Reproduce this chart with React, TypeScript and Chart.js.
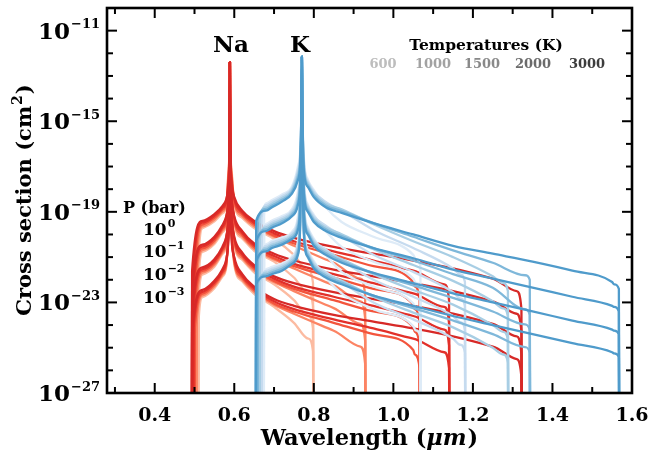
import { useEffect, useRef } from "react";
import { Chart, registerables } from "chart.js";

Chart.register(...registerables);

// ---------------- data ----------------
const TEMPS = ["600", "1000", "1500", "2000", "3000"];
const PRESSURE_EXP = ["0", "\u22121", "\u22122", "\u22123"];

// wavelength grids (micron)
const NA_GRID = [0.52, 0.55, 0.57, 0.58, 0.585, 0.5885, 0.589, 0.5895, 0.593, 0.6, 0.62, 0.65, 0.7, 0.75, 0.85, 0.95, 1.05, 1.15, 1.25];
const K_GRID = [0.68, 0.695, 0.72, 0.745, 0.76, 0.766, 0.769, 0.77, 0.771, 0.775, 0.785, 0.8, 0.83, 0.87, 0.95, 1.05, 1.15, 1.25, 1.35, 1.45, 1.55];

// cut-off wavelengths per temperature (600,1000,1500,2000,3000 K)
const NA_LEFT_CUT = [0.51, 0.505, 0.501, 0.497, 0.494];
const NA_RIGHT_CUT = [0.798, 0.929, 1.066, 1.14, 1.322];
const K_LEFT_CUT = [0.675, 0.669, 0.664, 0.659, 0.655];
const K_RIGHT_CUT = [1.068, 1.18, 1.288, 1.343, 1.567];

// log10 cross sections: [at left cut, grid values..., just before right cut, at right cut]
// rows: P = 1, 0.1, 0.01, 0.001 bar
const NA_600 = [
  [-21.2, -19.72, -19.42, -19.07, -18.77, -17.3, -15.3, -12.4, -15.3, -17.1, -18.67, -19.27, -19.72, -20.2, -20.9, -21.6, -22.15],
  [-22.1, -20.77, -20.42, -19.92, -19.52, -18.0, -15.7, -12.4, -15.7, -17.8, -19.52, -20.17, -20.72, -21.2, -21.9, -22.6, -23.15],
  [-23.0, -21.77, -21.42, -20.87, -20.42, -18.8, -16.1, -12.4, -16.1, -18.6, -20.42, -21.12, -21.67, -22.2, -22.9, -23.6, -24.15],
  [-23.9, -22.77, -22.37, -21.87, -21.42, -19.7, -16.5, -12.4, -16.5, -19.5, -21.32, -22.07, -22.62, -23.2, -23.9, -24.6, -25.15],
];
const NA_1000 = [
  [-21.3, -19.64, -19.34, -18.99, -18.69, -17.45, -15.3, -12.4, -15.3, -17.25, -18.59, -19.19, -19.64, -20.1, -20.5, -21.25, -21.95, -22.7],
  [-22.2, -20.69, -20.34, -19.84, -19.44, -18.15, -15.7, -12.4, -15.7, -17.95, -19.44, -20.09, -20.64, -21.1, -21.5, -22.25, -22.95, -23.7],
  [-23.1, -21.69, -21.34, -20.79, -20.34, -18.95, -16.1, -12.4, -16.1, -18.75, -20.34, -21.04, -21.59, -22.1, -22.5, -23.25, -23.95, -24.7],
  [-24.0, -22.69, -22.29, -21.79, -21.34, -19.85, -16.5, -12.4, -16.5, -19.65, -21.24, -21.99, -22.54, -23.1, -23.5, -24.25, -24.95, -25.7],
];
const NA_1500 = [
  [-21.4, -19.56, -19.26, -18.91, -18.61, -17.6, -15.3, -12.4, -15.3, -17.4, -18.51, -19.11, -19.56, -20.05, -20.4, -20.9, -21.4, -22.1, -22.3, -22.9],
  [-22.3, -20.61, -20.26, -19.76, -19.36, -18.3, -15.7, -12.4, -15.7, -18.1, -19.36, -20.01, -20.56, -21.05, -21.4, -21.9, -22.4, -23.1, -23.3, -23.9],
  [-23.2, -21.61, -21.26, -20.71, -20.26, -19.1, -16.1, -12.4, -16.1, -18.9, -20.26, -20.96, -21.51, -22.05, -22.4, -22.9, -23.4, -24.1, -24.3, -24.9],
  [-24.1, -22.61, -22.21, -21.71, -21.26, -20.0, -16.5, -12.4, -16.5, -19.8, -21.16, -21.91, -22.46, -23.05, -23.4, -23.9, -24.4, -25.1, -25.3, -25.9],
];
const NA_2000 = [
  [-21.5, -19.48, -19.18, -18.83, -18.53, -17.75, -15.3, -12.4, -15.3, -17.55, -18.43, -19.03, -19.48, -19.95, -20.3, -20.75, -21.15, -21.6, -22.2, -22.9],
  [-22.4, -20.53, -20.18, -19.68, -19.28, -18.45, -15.7, -12.4, -15.7, -18.25, -19.28, -19.93, -20.48, -20.95, -21.3, -21.75, -22.15, -22.6, -23.2, -23.9],
  [-23.3, -21.53, -21.18, -20.63, -20.18, -19.25, -16.1, -12.4, -16.1, -19.05, -20.18, -20.88, -21.43, -21.95, -22.3, -22.75, -23.15, -23.6, -24.2, -24.9],
  [-24.2, -22.53, -22.13, -21.63, -21.18, -20.15, -16.5, -12.4, -16.5, -19.95, -21.08, -21.83, -22.38, -22.95, -23.3, -23.75, -24.15, -24.6, -25.2, -25.9],
];
const NA_3000 = [
  [-21.6, -19.4, -19.1, -18.75, -18.45, -17.9, -15.3, -12.4, -15.3, -17.7, -18.35, -18.95, -19.4, -19.85, -20.15, -20.55, -20.85, -21.15, -21.5, -21.95, -22.5, -23.3],
  [-22.5, -20.45, -20.1, -19.6, -19.2, -18.6, -15.7, -12.4, -15.7, -18.4, -19.2, -19.85, -20.4, -20.85, -21.15, -21.55, -21.85, -22.15, -22.5, -22.95, -23.5, -24.3],
  [-23.4, -21.45, -21.1, -20.55, -20.1, -19.4, -16.1, -12.4, -16.1, -19.2, -20.1, -20.8, -21.35, -21.85, -22.15, -22.55, -22.85, -23.15, -23.5, -23.95, -24.5, -25.3],
  [-24.3, -22.45, -22.05, -21.55, -21.1, -20.3, -16.5, -12.4, -16.5, -20.1, -21.0, -21.75, -22.3, -22.85, -23.15, -23.55, -23.85, -24.15, -24.5, -24.95, -25.5, -26.3],
];

const K_600 = [
  [-19.2, -18.63, -18.48, -18.23, -17.88, -17.0, -16.2, -14.2, -12.15, -14.2, -16.6, -17.58, -18.03, -18.8, -19.45, -20.1, -20.9, -21.08, -21.4],
  [-20.1, -19.53, -19.38, -19.18, -18.88, -18.1, -17.0, -14.5, -12.15, -14.5, -17.6, -18.68, -19.13, -19.85, -20.55, -21.2, -21.95, -22.13, -22.44],
  [-21.0, -20.43, -20.28, -20.13, -19.88, -19.2, -17.9, -14.8, -12.15, -14.8, -18.5, -19.68, -20.18, -20.9, -21.65, -22.3, -23.05, -23.23, -23.54],
  [-22.0, -21.53, -21.43, -21.28, -20.98, -20.3, -18.8, -15.1, -12.15, -15.1, -19.4, -20.68, -21.18, -21.9, -22.6, -23.3, -24.05, -24.23, -24.54],
];
const K_1000 = [
  [-19.25, -18.71, -18.56, -18.31, -17.96, -17.15, -16.35, -14.2, -12.15, -14.2, -16.75, -17.66, -18.11, -18.56, -18.95, -19.8, -20.6, -21.5, -21.76, -22.1],
  [-20.15, -19.61, -19.46, -19.26, -18.96, -18.25, -17.15, -14.5, -12.15, -14.5, -17.75, -18.76, -19.21, -19.61, -20.05, -20.9, -21.65, -22.55, -22.82, -23.16],
  [-21.05, -20.51, -20.36, -20.21, -19.96, -19.35, -18.05, -14.8, -12.15, -14.8, -18.65, -19.76, -20.26, -20.66, -21.15, -22.0, -22.75, -23.6, -23.87, -24.21],
  [-22.05, -21.61, -21.51, -21.36, -21.06, -20.45, -18.95, -15.1, -12.15, -15.1, -19.55, -20.76, -21.26, -21.66, -22.1, -23.0, -23.75, -24.6, -24.87, -25.21],
];
const K_1500 = [
  [-19.3, -18.79, -18.64, -18.39, -18.04, -17.3, -16.5, -14.2, -12.15, -14.2, -16.9, -17.74, -18.19, -18.64, -18.89, -19.55, -20.3, -21.0, -21.85, -22.15, -22.5],
  [-20.2, -19.69, -19.54, -19.34, -19.04, -18.4, -17.3, -14.5, -12.15, -14.5, -17.9, -18.84, -19.29, -19.69, -19.99, -20.65, -21.35, -22.05, -22.95, -23.26, -23.6],
  [-21.1, -20.59, -20.44, -20.29, -20.04, -19.5, -18.2, -14.8, -12.15, -14.8, -18.8, -19.84, -20.34, -20.74, -21.09, -21.75, -22.45, -23.1, -24.0, -24.3, -24.65],
  [-22.1, -21.69, -21.59, -21.44, -21.14, -20.6, -19.1, -15.1, -12.15, -15.1, -19.7, -20.84, -21.34, -21.74, -22.04, -22.75, -23.45, -24.1, -25.0, -25.3, -25.65],
];
const K_2000 = [
  [-19.35, -18.87, -18.72, -18.47, -18.12, -17.45, -16.65, -14.2, -12.15, -14.2, -17.05, -17.82, -18.27, -18.72, -18.97, -19.5, -20.1, -20.7, -21.25, -21.8, -22.0],
  [-20.25, -19.77, -19.62, -19.42, -19.12, -18.55, -17.45, -14.5, -12.15, -14.5, -18.05, -18.92, -19.37, -19.77, -20.07, -20.6, -21.15, -21.75, -22.35, -23.3, -23.55],
  [-21.15, -20.67, -20.52, -20.37, -20.12, -19.65, -18.35, -14.8, -12.15, -14.8, -18.95, -19.92, -20.42, -20.82, -21.17, -21.7, -22.25, -22.8, -23.4, -23.97, -24.22],
  [-22.15, -21.77, -21.67, -21.52, -21.22, -20.75, -19.25, -15.1, -12.15, -15.1, -19.85, -20.92, -21.42, -21.82, -22.12, -22.7, -23.25, -23.8, -24.4, -24.97, -25.22],
];
const K_3000 = [
  [-19.4, -18.95, -18.8, -18.55, -18.2, -17.6, -16.8, -14.2, -12.15, -14.2, -17.2, -17.9, -18.35, -18.8, -19.05, -19.5, -20.0, -20.5, -20.85, -21.2, -21.6, -22.1, -22.2, -22.4],
  [-20.3, -19.85, -19.7, -19.5, -19.2, -18.7, -17.6, -14.5, -12.15, -14.5, -18.2, -19.0, -19.45, -19.85, -20.15, -20.6, -21.05, -21.55, -21.95, -22.35, -22.75, -23.15, -23.2, -23.4],
  [-21.2, -20.75, -20.6, -20.45, -20.2, -19.8, -18.5, -14.8, -12.15, -14.8, -19.1, -20.0, -20.5, -20.9, -21.25, -21.7, -22.15, -22.6, -23.0, -23.4, -23.8, -24.2, -24.25, -24.4],
  [-22.2, -21.85, -21.75, -21.6, -21.3, -20.9, -19.4, -15.1, -12.15, -15.1, -20.0, -21.0, -21.5, -21.9, -22.2, -22.7, -23.15, -23.6, -24.0, -24.4, -24.8, -25.2, -25.25, -25.4],
];

const NA_SETS = [NA_600, NA_1000, NA_1500, NA_2000, NA_3000];
const K_SETS = [K_600, K_1000, K_1500, K_2000, K_3000];

const NA_COLORS = ["#fcbba1", "#fc8464", "#f3543c", "#e2302a", "#d72927"];
const K_COLORS = ["#deebf7", "#c6dbef", "#a8cee4", "#7fb8da", "#4f9bcb"];
const TEMP_TEXT_COLORS = ["#bdbdbd", "#a2a2a2", "#898989", "#6b6b6b", "#3c3c3c"];

const X_MAJOR = [0.4, 0.6, 0.8, 1.0, 1.2, 1.4, 1.6];
const X_TICK_LABELS = ["0.4", "0.6", "0.8", "1.0", "1.2", "1.4", "1.6"];
const X_MINOR = [0.3, 0.5, 0.7, 0.9, 1.1, 1.3, 1.5];
const Y_MAJOR_EXP = [-27, -23, -19, -15, -11];
const Y_TICK_EXP_LABELS = ["\u221227", "\u221223", "\u221219", "\u221215", "\u221211"];
const Y_MINOR_EXP = [-26, -25, -24, -22, -21, -20, -18, -17, -16, -14, -13, -12];

const FLOOR = 1e-28;
const PRE_GAP = 0.012;
const EDGE_EPS = 0.0006;
const SERIF = '"DejaVu Serif", serif';

function buildLine(grid: number[], leftCut: number, rightCut: number, vals: number[]) {
  const n = vals.length - 3;
  const pts: { x: number; y: number }[] = [];
  pts.push({ x: leftCut - EDGE_EPS, y: FLOOR });
  pts.push({ x: leftCut, y: Math.pow(10, vals[0]) });
  for (let i = 0; i < n; i++) pts.push({ x: grid[i], y: Math.pow(10, vals[i + 1]) });
  pts.push({ x: rightCut - PRE_GAP, y: Math.pow(10, vals[n + 1]) });
  pts.push({ x: rightCut, y: Math.pow(10, vals[n + 2]) });
  pts.push({ x: rightCut + EDGE_EPS, y: FLOOR });
  return pts;
}

function makeDatasets() {
  const ds: any[] = [];
  const add = (grid: number[], sets: number[][][], lc: number[], rc: number[], colors: string[]) => {
    for (let t = sets.length - 1; t >= 0; t--) {
      sets[t].forEach((vals) => {
        ds.push({
          data: buildLine(grid, lc[t], rc[t], vals),
          borderColor: colors[t],
          backgroundColor: colors[t],
          borderWidth: 2.3,
          pointRadius: 0,
          showLine: true,
          fill: false,
          cubicInterpolationMode: "monotone",
          borderJoinStyle: "round",
        });
      });
    }
  };
  // first datasets are drawn on top: K over Na, hotter over cooler
  add(K_GRID, K_SETS, K_LEFT_CUT, K_RIGHT_CUT, K_COLORS);
  add(NA_GRID, NA_SETS, NA_LEFT_CUT, NA_RIGHT_CUT, NA_COLORS);
  return ds;
}

function drawPow(ctx: CanvasRenderingContext2D, base: string, exp: string, x: number, y: number, bs: number, es: number, align: "left" | "right", weight = "bold") {
  ctx.textAlign = "left";
  ctx.textBaseline = "alphabetic";
  ctx.font = `${weight} ${bs}px ${SERIF}`;
  const wb = ctx.measureText(base).width;
  ctx.font = `${weight} ${es}px ${SERIF}`;
  const we = ctx.measureText(exp).width;
  const start = align === "right" ? x - wb - we - 1 : x;
  ctx.font = `${weight} ${bs}px ${SERIF}`;
  ctx.fillText(base, start, y);
  ctx.font = `${weight} ${es}px ${SERIF}`;
  ctx.fillText(exp, start + wb + 1, y - bs * 0.45);
}

const decorPlugin = {
  id: "decor",
  afterDraw(chart: any) {
    const { ctx, chartArea: a } = chart;
    const xs = chart.scales.x;
    const ys = chart.scales.y;
    ctx.save();
    ctx.strokeStyle = "#000";
    ctx.lineCap = "butt";
    const seg = (x1: number, y1: number, x2: number, y2: number) => {
      ctx.beginPath();
      ctx.moveTo(x1, y1);
      ctx.lineTo(x2, y2);
      ctx.stroke();
    };
    ctx.lineWidth = 2;
    X_MAJOR.forEach((v) => {
      const p = xs.getPixelForValue(v);
      seg(p, a.bottom, p, a.bottom - 10);
      seg(p, a.top, p, a.top + 10);
    });
    X_MINOR.forEach((v) => {
      const p = xs.getPixelForValue(v);
      seg(p, a.bottom, p, a.bottom - 6);
      seg(p, a.top, p, a.top + 6);
    });
    Y_MAJOR_EXP.forEach((e) => {
      const p = ys.getPixelForValue(Math.pow(10, e));
      seg(a.left, p, a.left + 10, p);
      seg(a.right, p, a.right - 10, p);
    });
    Y_MINOR_EXP.forEach((e) => {
      const p = ys.getPixelForValue(Math.pow(10, e));
      seg(a.left, p, a.left + 6, p);
      seg(a.right, p, a.right - 6, p);
    });
    ctx.lineWidth = 2.6;
    ctx.strokeRect(a.left, a.top, a.right - a.left, a.bottom - a.top);

    ctx.fillStyle = "#000";
    // x tick labels
    ctx.font = `bold 19px ${SERIF}`;
    ctx.textAlign = "center";
    ctx.textBaseline = "alphabetic";
    X_MAJOR.forEach((v, i) => ctx.fillText(X_TICK_LABELS[i], xs.getPixelForValue(v), a.bottom + 28));
    // y tick labels
    Y_MAJOR_EXP.forEach((e, i) => {
      const p = ys.getPixelForValue(Math.pow(10, e));
      drawPow(ctx, "10", Y_TICK_EXP_LABELS[i], a.left - 7, p + 8, 23, 13, "right");
    });

    // x title
    ctx.textAlign = "left";
    const t1 = "Wavelength (";
    const t2 = "\u03bcm";
    const t3 = ")";
    const fs = 22.5;
    ctx.font = `bold ${fs}px ${SERIF}`;
    const w1 = ctx.measureText(t1).width;
    const w3 = ctx.measureText(t3).width;
    ctx.font = `bold italic ${fs}px ${SERIF}`;
    const w2 = ctx.measureText(t2).width;
    const sx = 369 - (w1 + w2 + w3) / 2;
    ctx.font = `bold ${fs}px ${SERIF}`;
    ctx.fillText(t1, sx, 445);
    ctx.font = `bold italic ${fs}px ${SERIF}`;
    ctx.fillText(t2, sx + w1, 445);
    ctx.font = `bold ${fs}px ${SERIF}`;
    ctx.fillText(t3, sx + w1 + w2 + 1, 445);

    // y title
    ctx.save();
    ctx.translate(31, 201);
    ctx.rotate(-Math.PI / 2);
    const y1 = "Cross section (cm";
    const y2 = "2";
    const y3 = ")";
    ctx.font = `bold 21px ${SERIF}`;
    const v1 = ctx.measureText(y1).width;
    const v3 = ctx.measureText(y3).width;
    ctx.font = `bold 14px ${SERIF}`;
    const v2 = ctx.measureText(y2).width;
    const st = -(v1 + v2 + v3) / 2;
    ctx.font = `bold 21px ${SERIF}`;
    ctx.fillText(y1, st, 0);
    ctx.font = `bold 14px ${SERIF}`;
    ctx.fillText(y2, st + v1 + 1, -9);
    ctx.font = `bold 21px ${SERIF}`;
    ctx.fillText(y3, st + v1 + v2 + 2, 0);
    ctx.restore();

    // species labels
    ctx.textAlign = "center";
    ctx.font = `bold 23px ${SERIF}`;
    ctx.fillText("Na", 231, 52);
    ctx.fillText("K", 300, 52);

    // temperature legend
    ctx.font = `bold 15.5px ${SERIF}`;
    ctx.fillText("Temperatures (K)", 486, 50);
    const tx = [383, 433, 482, 533, 587];
    ctx.font = `bold 13px ${SERIF}`;
    TEMPS.forEach((t, i) => {
      ctx.fillStyle = TEMP_TEXT_COLORS[i];
      ctx.fillText(t, tx[i], 68);
    });

    // pressure legend
    ctx.fillStyle = "#000";
    ctx.textAlign = "left";
    ctx.font = `bold 16px ${SERIF}`;
    ctx.fillText("P (bar)", 123, 213);
    const pb = [235, 257, 280, 303];
    PRESSURE_EXP.forEach((e, i) => drawPow(ctx, "10", e, 143, pb[i], 17, 11, "left"));

    ctx.restore();
  },
};

export default function App() {
  const ref = useRef<HTMLCanvasElement | null>(null);
  useEffect(() => {
    if (!ref.current) return;
    const chart = new Chart(ref.current, {
      type: "scatter",
      data: { datasets: makeDatasets() },
      options: {
        animation: false,
        responsive: false,
        layout: { padding: { left: 107, right: 19, top: 8, bottom: 60 } },
        scales: {
          x: { type: "linear", min: 0.28, max: 1.6, display: false },
          y: { type: "logarithmic", min: 1e-27, max: 1e-10, display: false },
        },
        plugins: { legend: { display: false }, tooltip: { enabled: false } },
        events: [],
      },
      plugins: [decorPlugin],
    } as any);
    return () => chart.destroy();
  }, []);
  return (
    <div style={{ position: "fixed", left: 0, top: 0, width: 651, height: 453, background: "#fff" }}>
      <canvas ref={ref} width={651} height={453} style={{ display: "block" }} />
    </div>
  );
}
